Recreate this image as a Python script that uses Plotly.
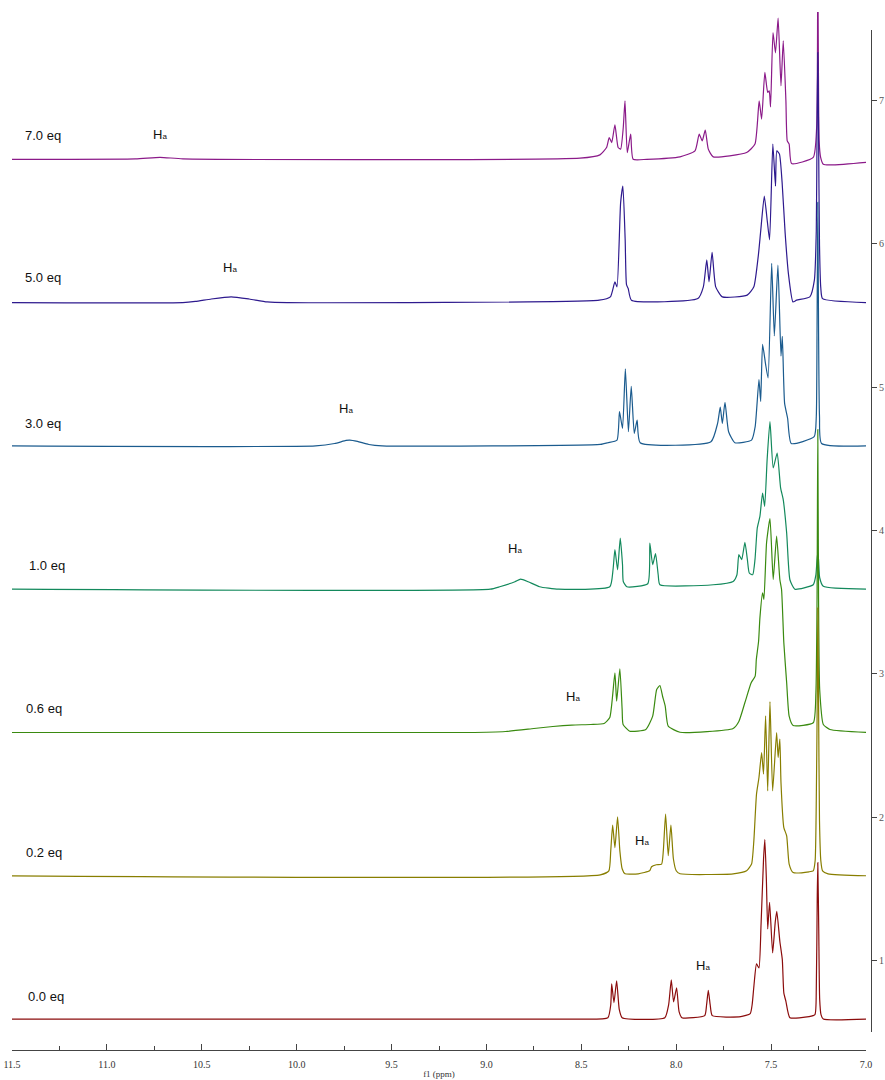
import plotly.graph_objects as go

# ---------------- data ----------------
labels = ["0.0 eq", "0.2 eq", "0.6 eq", "1.0 eq", "3.0 eq", "5.0 eq", "7.0 eq"]
offsets = [0.59, 1.59, 2.59, 3.59, 4.59, 5.59, 6.59]
label_ppm = [11.426, 11.437, 11.437, 11.421, 11.442, 11.442, 11.442]
label_h = [0.157, 0.16, 0.167, 0.164, 0.157, 0.174, 0.164]
ha_ppm = [7.86, 8.18, 8.544, 8.85, 9.74, 10.35, 10.72]
ha_h = [0.377, 0.244, 0.251, 0.286, 0.258, 0.244, 0.174]
colors = ["#8b0c0c", "#887e00", "#3a8a10", "#13895c", "#1b5b8e", "#2e1a8e", "#8b1a89"]

x_ticks = [11.5, 11.0, 10.5, 10.0, 9.5, 9.0, 8.5, 8.0, 7.5, 7.0]
y_ticks = [1, 2, 3, 4, 5, 6, 7]

# (ppm, relative intensity) points
spec_00 = [(11.51, 0), (8.50, 0), (8.36, 0.01), (8.345, 0.10), (8.340, 0.246), (8.328, 0.115),
           (8.314, 0.267), (8.300, 0.066), (8.285, 0.01), (8.06, 0.01), (8.040, 0.10), (8.026, 0.274),
           (8.014, 0.12), (7.998, 0.218), (7.985, 0.052), (7.97, 0.01), (7.85, 0.024), (7.840, 0.10),
           (7.831, 0.201), (7.821, 0.10), (7.810, 0.024), (7.66, 0.017), (7.61, 0.038), (7.600, 0.10),
           (7.590, 0.24), (7.577, 0.385), (7.564, 0.357), (7.553, 0.66), (7.540, 1.113), (7.533, 1.253),
           (7.525, 0.974), (7.518, 0.629), (7.508, 0.815), (7.492, 0.462), (7.478, 0.68), (7.470, 0.752),
           (7.454, 0.543), (7.441, 0.415), (7.433, 0.183), (7.422, 0.124), (7.401, 0.01), (7.30, 0.017),
           (7.269, 0.031), (7.262, 0.206), (7.257, 0.846), (7.254, 1.092), (7.249, 0.625), (7.244, 0.136),
           (7.237, 0.031), (7.225, 0), (6.99, 0)]

spec_02 = [(11.51, 0), (8.40, 0.007), (8.355, 0.035), (8.345, 0.174), (8.335, 0.354), (8.323, 0.197),
           (8.309, 0.412), (8.297, 0.174), (8.285, 0.049), (8.27, 0.014), (8.20, 0.014), (8.14, 0.035),
           (8.130, 0.063), (8.105, 0.077), (8.077, 0.082), (8.068, 0.174), (8.056, 0.43), (8.042, 0.14),
           (8.028, 0.354), (8.015, 0.119), (8.00, 0.035), (7.98, 0.014), (7.70, 0.014), (7.629, 0.035),
           (7.603, 0.082), (7.591, 0.244), (7.577, 0.57), (7.564, 0.686), (7.550, 0.86), (7.540, 0.71),
           (7.529, 1.117), (7.518, 0.593), (7.506, 1.216), (7.492, 0.593), (7.471, 1.0), (7.463, 0.826),
           (7.454, 0.954), (7.448, 0.651), (7.433, 0.337), (7.418, 0.279), (7.405, 0.082), (7.384, 0.023),
           (7.30, 0.028), (7.278, 0.035), (7.268, 0.105), (7.262, 0.523), (7.257, 1.221), (7.254, 1.87),
           (7.250, 1.221), (7.245, 0.384), (7.238, 0.105), (7.229, 0.035), (7.20, 0.014), (6.99, 0)]

spec_06 = [(11.51, 0), (9.10, 0), (8.90, 0.007), (8.75, 0.028), (8.65, 0.042), (8.55, 0.052),
           (8.45, 0.056), (8.38, 0.063), (8.35, 0.105), (8.323, 0.417), (8.314, 0.218), (8.297, 0.445),
           (8.285, 0.16), (8.28, 0.056), (8.245, 0.009), (8.16, 0.021), (8.124, 0.114), (8.103, 0.30),
           (8.086, 0.328), (8.072, 0.253), (8.058, 0.184), (8.042, 0.044), (7.98, 0.002), (7.70, 0.028),
           (7.670, 0.077), (7.638, 0.209), (7.605, 0.347), (7.584, 0.393), (7.578, 0.509), (7.566, 0.637),
           (7.559, 0.80), (7.545, 0.975), (7.538, 0.928), (7.524, 1.324), (7.506, 1.493), (7.489, 1.068),
           (7.471, 1.37), (7.454, 1.068), (7.445, 0.998), (7.433, 0.626), (7.418, 0.347), (7.405, 0.114),
           (7.384, 0.049), (7.278, 0.068), (7.264, 0.279), (7.258, 0.928), (7.254, 2.114), (7.250, 0.928),
           (7.244, 0.30), (7.225, 0.056), (7.19, 0.021), (6.99, 0)]

spec_10 = [(11.51, 0), (8.98, 0), (8.93, 0.017), (8.85, 0.052), (8.82, 0.07), (8.78, 0.052),
           (8.72, 0.017), (8.62, 0), (8.35, 0.017), (8.333, 0.136), (8.323, 0.276), (8.309, 0.136),
           (8.295, 0.357), (8.283, 0.171), (8.279, 0.054), (8.26, 0.017), (8.15, 0.038), (8.139, 0.322),
           (8.124, 0.171), (8.109, 0.248), (8.095, 0.101), (8.086, 0.031), (7.805, 0.031), (7.70, 0.054),
           (7.68, 0.101), (7.670, 0.241), (7.655, 0.206), (7.638, 0.327), (7.625, 0.206), (7.615, 0.113),
           (7.597, 0.101), (7.585, 0.206), (7.573, 0.427), (7.559, 0.508), (7.545, 0.671), (7.534, 0.578),
           (7.521, 0.904), (7.506, 1.169), (7.489, 0.846), (7.468, 0.95), (7.450, 0.707), (7.436, 0.624),
           (7.418, 0.392), (7.401, 0.066), (7.375, 0), (7.278, 0.031), (7.264, 0.101), (7.258, 0.206),
           (7.254, 0.255), (7.250, 0.206), (7.244, 0.08), (7.225, 0.02), (6.99, 0)]

spec_30 = [(11.51, 0), (9.90, 0), (9.80, 0.017), (9.74, 0.038), (9.72, 0.04), (9.68, 0.031),
           (9.62, 0.01), (9.55, 0), (8.40, 0.01), (8.36, 0.022), (8.312, 0.04), (8.299, 0.239),
           (8.283, 0.122), (8.268, 0.538), (8.252, 0.099), (8.237, 0.416), (8.221, 0.087), (8.206, 0.18),
           (8.190, 0.022), (7.817, 0.029), (7.782, 0.157), (7.768, 0.27), (7.757, 0.157), (7.743, 0.304),
           (7.724, 0.099), (7.691, 0.022), (7.603, 0.04), (7.584, 0.134), (7.564, 0.463), (7.555, 0.31),
           (7.545, 0.708), (7.529, 0.569), (7.516, 0.475), (7.497, 1.274), (7.483, 0.768), (7.464, 1.261),
           (7.448, 0.627), (7.441, 0.764), (7.429, 0.299), (7.413, 0.193), (7.394, 0.017), (7.273, 0.064),
           (7.262, 0.204), (7.258, 0.813), (7.254, 1.70), (7.250, 0.813), (7.245, 0.206), (7.234, 0.017),
           (6.99, 0)]

spec_50 = [(11.51, 0), (10.60, 0), (10.534, 0.008), (10.45, 0.025), (10.345, 0.04), (10.25, 0.025),
           (10.155, 0.005), (10.05, 0), (8.406, 0.017), (8.347, 0.04), (8.323, 0.145), (8.312, 0.11),
           (8.293, 0.696), (8.281, 0.813), (8.269, 0.438), (8.262, 0.126), (8.253, 0.098), (8.236, 0.017),
           (7.886, 0.028), (7.857, 0.11), (7.839, 0.298), (7.827, 0.145), (7.811, 0.35), (7.792, 0.11),
           (7.757, 0.04), (7.626, 0.052), (7.591, 0.11), (7.567, 0.333), (7.555, 0.497), (7.536, 0.743),
           (7.520, 0.567), (7.508, 0.438), (7.491, 1.106), (7.477, 0.813), (7.470, 1.059), (7.456, 1.036),
           (7.442, 0.837), (7.426, 0.485), (7.409, 0.204), (7.385, 0.005), (7.366, 0.017), (7.296, 0.04),
           (7.272, 0.157), (7.262, 0.5), (7.258, 1.2), (7.254, 1.745), (7.250, 1.2), (7.245, 0.4),
           (7.238, 0.1), (7.229, 0.028), (6.99, 0)]

spec_70 = [(11.51, 0), (10.85, 0.003), (10.72, 0.014), (10.60, 0.003), (8.507, 0.008), (8.402, 0.031),
           (8.367, 0.082), (8.353, 0.152), (8.340, 0.117), (8.323, 0.241), (8.306, 0.082), (8.293, 0.071),
           (8.279, 0.222), (8.270, 0.408), (8.258, 0.047), (8.240, 0.176), (8.227, 0), (8.156, 0),
           (7.980, 0.017), (7.901, 0.059), (7.879, 0.176), (7.863, 0.129), (7.847, 0.204), (7.831, 0.071),
           (7.805, 0.017), (7.629, 0.047), (7.585, 0.106), (7.563, 0.408), (7.550, 0.281), (7.533, 0.606),
           (7.518, 0.466), (7.510, 0.478), (7.503, 0.366), (7.490, 0.885), (7.477, 0.743), (7.463, 0.985),
           (7.448, 0.513), (7.436, 0.827), (7.422, 0.408), (7.415, 0.129), (7.405, 0.106), (7.392, -0.03),
           (7.278, 0.013), (7.260, 0.222), (7.256, 0.687), (7.254, 1.385), (7.251, 0.687), (7.247, 0.129),
           (7.239, 0.013), (7.225, -0.035), (6.99, -0.02)]

spectra = [spec_00, spec_02, spec_06, spec_10, spec_30, spec_50, spec_70]

# ---------------- figure ----------------
W, H = 885, 1080
fig = go.Figure()

# draw top spectrum first so lower ones lie on top
for i in reversed(range(len(spectra))):
    s = spectra[i]
    fig.add_trace(go.Scatter(
        x=[p for p, _ in s], y=[v + offsets[i] for _, v in s],
        mode="lines", line=dict(color=colors[i], width=1.2, shape="spline", smoothing=0.5),
        xaxis="x", yaxis="y", showlegend=False, hoverinfo="skip"))

# helper trace for the decorative right axis subplot
fig.add_trace(go.Scatter(x=[None], y=[None], xaxis="x2", yaxis="y2",
                         showlegend=False, hoverinfo="skip"))

for i, lab in enumerate(labels):
    fig.add_annotation(x=label_ppm[i], y=offsets[i] + label_h[i], xref="x", yref="y",
                       text=lab, showarrow=False, xanchor="left", yanchor="middle",
                       font=dict(family="Liberation Sans, Arial", size=13, color="#111111"))
    fig.add_annotation(x=ha_ppm[i], y=offsets[i] + ha_h[i], xref="x", yref="y",
                       text="H<span style='font-size:8px'>a</span>", showarrow=False,
                       xanchor="center", yanchor="middle",
                       font=dict(family="Liberation Sans, Arial", size=13, color="#111111"))

px_per_unit = 143.3
x_dom = [12 / W, 866 / W]
y_bot = 1032
data_top = 12
axis_top = 30

fig.update_layout(
    width=W, height=H, template="none",
    margin=dict(l=0, r=0, t=0, b=0),
    paper_bgcolor="white", plot_bgcolor="rgba(0,0,0,0)",
    font=dict(family="Liberation Sans, Arial", size=12, color="#222"),
    xaxis=dict(domain=x_dom, range=[11.5, 7.0], anchor="free", position=1 - 1050 / H,
               showgrid=False, zeroline=False, showline=True, linecolor="#444", linewidth=1,
               ticks="inside", ticklen=6, tickcolor="#444", tickwidth=1,
               tickvals=x_ticks, ticktext=[f"{t:.1f}" for t in x_ticks],
               tickfont=dict(family="Liberation Serif, DejaVu Serif", size=10, color="#333"),
               ticklabelstandoff=5,
               minor=dict(dtick=0.25, tick0=7.0, ticks="inside", ticklen=4, tickcolor="#444", showgrid=False),
               title=dict(text="f1 (ppm)", standoff=1,
                          font=dict(family="Liberation Serif, DejaVu Serif", size=9, color="#333")),
               automargin=False),
    yaxis=dict(domain=[1 - y_bot / H, 1 - data_top / H],
               range=[0.5, 0.5 + (y_bot - data_top) / px_per_unit],
               anchor="x", visible=False, showgrid=False, zeroline=False, automargin=False),
    xaxis2=dict(domain=x_dom, range=[11.5, 7.0], anchor="y2", visible=False,
                showgrid=False, zeroline=False, automargin=False),
    yaxis2=dict(domain=[1 - y_bot / H, 1 - axis_top / H],
                range=[0.5, 0.5 + (y_bot - axis_top) / px_per_unit],
                anchor="free", position=871 / W, side="right",
                showgrid=False, zeroline=False, showline=True, linecolor="#444", linewidth=1,
                ticks="outside", ticklen=5, tickcolor="#444", tickvals=y_ticks,
                tickfont=dict(family="Liberation Serif, DejaVu Serif", size=10, color="#555"),
                automargin=False),
)

fig.write_html("out.html")
